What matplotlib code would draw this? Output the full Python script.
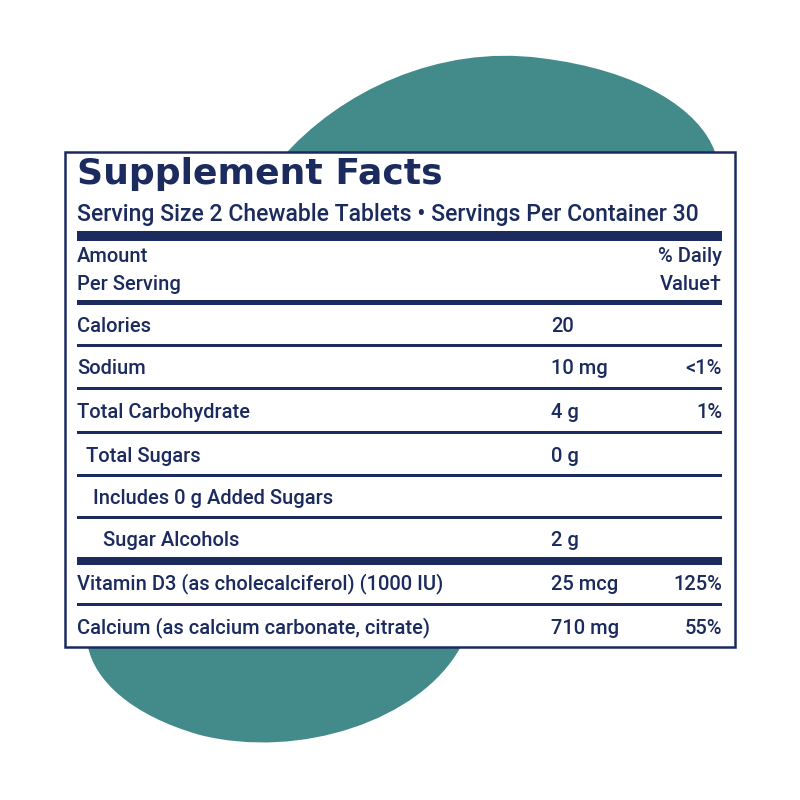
import matplotlib
matplotlib.use("Agg")
import matplotlib.pyplot as plt
from matplotlib.path import Path
from matplotlib.patches import PathPatch, Rectangle

# label content
title = "Supplement Facts"
serving = "Serving Size 2 Chewable Tablets \u2022 Servings Per Container 30"
nutrients = ["Calories", "Sodium", "Total Carbohydrate", "Total Sugars",
             "Includes 0 g Added Sugars", "Sugar Alcohols",
             "Vitamin D3 (as cholecalciferol) (1000 IU)",
             "Calcium (as calcium carbonate, citrate)"]
amounts = ["20", "10 mg", "4 g", "0 g", "", "2 g", "25 mcg", "710 mg"]
daily_values = ["", "<1%", "1%", "", "", "", "125%", "55%"]

navy = "#1b2b5e"
teal = "#438a8b"
fnt = dict(fontsize=14.5, color=navy, va="center", family="Roboto", fontweight="medium", zorder=3)

fig = plt.figure(figsize=(8, 8), dpi=100)
ax = fig.add_axes([0, 0, 1, 1])
ax.set_xlim(0, 800)
ax.set_ylim(800, 0)
ax.axis("off")

# teal blob behind the label
verts = [(280, 160),
         (340, 90), (440, 45), (540, 58),
         (640, 70), (700, 110), (715, 152),
         (720, 400), (470, 500), (460, 648),
         (420, 720), (300, 760), (200, 735),
         (130, 715), (95, 680), (88, 647),
         (60, 400), (200, 250), (280, 160)]
codes = [Path.MOVETO] + [Path.CURVE4] * 18
ax.add_patch(PathPatch(Path(verts, codes), fc=teal, ec="none", zorder=0))

# white box
ax.add_patch(Rectangle((65, 152), 670, 495, fc="white", ec=navy, lw=1.8, zorder=1))

left, right, amt_x = 77, 722, 551
ax.text(left, 174, title, fontsize=26, fontweight="heavy", color=navy,
        va="center", ha="left", zorder=2, family="DejaVu Sans")
ax.text(left, 215, serving, **{**fnt, "fontsize": 16.6})

def bar(y, h):
    ax.add_patch(Rectangle((left, y - h / 2), right - left, h, fc=navy, ec="none", zorder=2))

bar(236, 10)
ax.text(left, 257, "Amount", **fnt)
ax.text(left, 284, "Per Serving", **fnt)
ax.text(right, 257, "% Daily", ha="right", **fnt)
ax.text(right, 284, "Value\u2020", ha="right", **fnt)
bar(302, 5)

indents = [0, 0, 0, 9, 16, 26, 0, 0]
row_y = [326, 369, 412, 456, 498, 541, 584, 628]
rule_h = [3, 3, 3, 3, 3, 8, 3]
for i, (name, amt, dv) in enumerate(zip(nutrients, amounts, daily_values)):
    y = row_y[i]
    ax.text(left + indents[i], y, name, **fnt)
    ax.text(amt_x, y, amt, **fnt)
    ax.text(right, y, dv, ha="right", **fnt)
    if i < len(rule_h):
        bar((y + row_y[i + 1]) / 2 - 2, rule_h[i])

fig.savefig("out.png", dpi=100, facecolor="white")
